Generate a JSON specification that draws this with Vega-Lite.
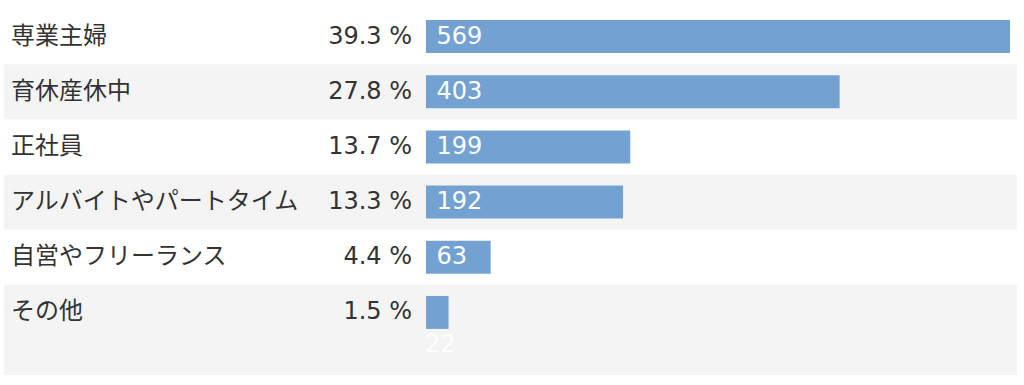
{
  "$schema": "https://vega.github.io/schema/vega-lite/v6.json",
  "width": 1013,
  "height": 366,
  "autosize": {"type": "none"},
  "padding": {"left": 4, "top": 9, "right": 7, "bottom": 10},
  "background": "#ffffff",
  "config": {"view": {"stroke": null}},
  "data": {
    "values": [
      {"cat": "専業主婦", "count": 569, "pct": 39.3},
      {"cat": "育休産休中", "count": 403, "pct": 27.8},
      {"cat": "正社員", "count": 199, "pct": 13.7},
      {"cat": "アルバイトやパートタイム", "count": 192, "pct": 13.3},
      {"cat": "自営やフリーランス", "count": 63, "pct": 4.4},
      {"cat": "その他", "count": 22, "pct": 1.5}
    ]
  },
  "encoding": {
    "y": {
      "field": "cat",
      "type": "nominal",
      "axis": null,
      "scale": {
        "domain": ["専業主婦", "育休産休中", "正社員", "アルバイトやパートタイム", "自営やフリーランス", "その他"],
        "paddingInner": 0, "paddingOuter": 0.317, "align": 0
      }
    }
  },
  "layer": [
    {
      "transform": [{"filter": "datum.cat === '育休産休中' || datum.cat === 'アルバイトやパートタイム'"}],
      "mark": {"type": "rect", "color": "#f4f4f4"},
      "encoding": {
        "x": {"datum": -411.1, "type": "quantitative", "scale": {"domain": [-411.1, 575.8], "nice": false, "zero": false}, "axis": null},
        "x2": {"datum": 575.8}
      }
    },
    {
      "transform": [{"filter": "datum.cat === 'その他'"}],
      "mark": {"type": "rect", "color": "#f4f4f4"},
      "encoding": {
        "x": {"datum": -411.1, "type": "quantitative"},
        "x2": {"datum": 575.8},
        "y": {"field": "cat", "type": "nominal", "bandPosition": 0},
        "y2": {"value": "height"}
      }
    },
    {
      "mark": {"type": "bar", "color": "#73a2d2", "size": 33},
      "encoding": {
        "x": {"field": "count", "type": "quantitative"}
      }
    },
    {
      "mark": {"type": "text", "align": "left", "baseline": "middle", "font": "Noto Sans CJK JP", "fontSize": 24, "color": "#333333"},
      "encoding": {
        "x": {"datum": -404.3, "type": "quantitative"},
        "text": {"field": "cat"}
      }
    },
    {
      "transform": [{"calculate": "format(datum.pct, '.1f') + ' %'", "as": "pctLabel"}],
      "mark": {"type": "text", "align": "right", "baseline": "middle", "font": "DejaVu Sans", "fontSize": 24, "color": "#333333"},
      "encoding": {
        "x": {"datum": -13.6, "type": "quantitative"},
        "text": {"field": "pctLabel"}
      }
    },
    {
      "transform": [{"filter": "datum.count >= 50"}],
      "mark": {"type": "text", "align": "left", "baseline": "middle", "font": "DejaVu Sans", "fontSize": 24, "color": "#ffffff", "dx": 10.5},
      "encoding": {
        "x": {"datum": 0, "type": "quantitative"},
        "text": {"field": "count"}
      }
    },
    {
      "transform": [{"filter": "datum.count < 50"}],
      "mark": {"type": "text", "align": "left", "baseline": "middle", "font": "DejaVu Sans", "fontSize": 24, "color": "#ffffff", "dx": -1, "dy": 32.5},
      "encoding": {
        "x": {"datum": 0, "type": "quantitative"},
        "text": {"field": "count"}
      }
    }
  ]
}
